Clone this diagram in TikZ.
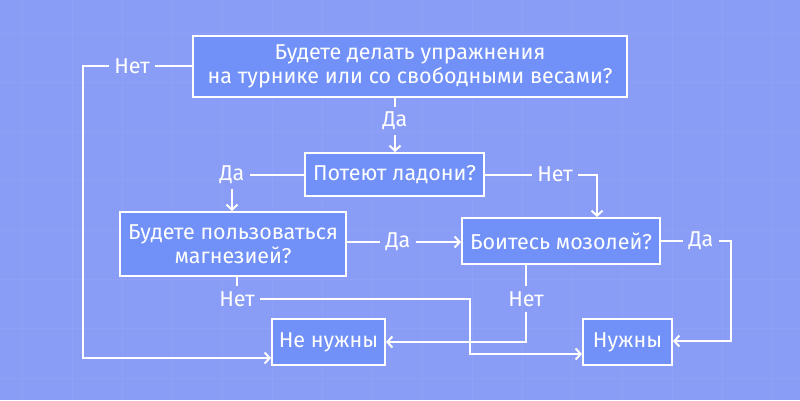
\documentclass[tikz,border=0pt]{standalone}
\usepackage{fontspec}
\setmainfont{Fira Sans}
\usetikzlibrary{arrows.meta}

\definecolor{bgblue}{HTML}{8A9DF6}
\definecolor{gridblue}{HTML}{8FA0F5}
\definecolor{boxblue}{HTML}{7191F9}

\tikzset{
  qbox/.style={draw=white, line width=2pt, fill=boxblue, text=white, align=center,
    font=\fontsize{21.5}{24}\selectfont, inner sep=0pt},
  answer/.style={text=white, font=\fontsize{21.5}{24}\selectfont, inner sep=5pt},
  link/.style={draw=white, line width=2pt},
  arr/.style={link, -{Straight Barb[length=5pt, width=11pt, line width=2pt]}}
}

\begin{document}
\begin{tikzpicture}[x=1pt, y=-1pt]
  \fill[bgblue] (0,0) rectangle (800,400);
  \useasboundingbox (0,0) rectangle (800,400);
  \foreach \i in {0,...,15} {
    \draw[gridblue, line width=1pt] (22+\i*50,0) -- (22+\i*50,400);
  }
  \foreach \j in {0,...,7} {
    \draw[gridblue, line width=1pt] (0,33+\j*49.3) -- (800,33+\j*49.3);
  }

  % questions and outcomes
  \node[qbox, minimum width=434pt, minimum height=61pt] (turnik) at (410,66)
    {Будете делать упражнения\\на турнике или со свободными весами?};
  \node[qbox, minimum width=179pt, minimum height=43pt] (ladoni) at (394.5,174.5) {Потеют ладони?};
  \node[qbox, minimum width=226pt, minimum height=64pt] (magnez) at (233,244)
    {Будете пользоваться\\магнезией?};
  \node[qbox, minimum width=198pt, minimum height=46pt] (mozol) at (561,241) {Боитесь мозолей?};
  \node[qbox, minimum width=113pt, minimum height=46pt] (nenado) at (328.5,342) {Не нужны};
  \node[qbox, minimum width=89pt, minimum height=46pt] (nado) at (627.5,342) {Нужны};

  % answers
  \node[answer] (net1) at (132,66) {Нет};
  \node[answer] (da1) at (395,121) {Да};
  \node[answer] (da2) at (232,174.5) {Да};
  \node[answer] (net2) at (555,174.5) {Нет};
  \node[answer] (da3) at (398,242) {Да};
  \node[answer] (da4) at (701,241) {Да};
  \node[answer] (net3) at (237,299) {Нет};
  \node[answer] (net4) at (526,299) {Нет};

  \coordinate (c1) at (83,358);
  \coordinate (c2) at (597,174.5);
  \coordinate (c3) at (731,341);
  \coordinate (c4) at (470,354);

  \draw[link] (turnik.west) -- (net1.east);
  \draw[arr] (net1.west) -| (c1) -- (nenado.west |- c1);
  \draw[link] (da1 |- turnik.south) -- (da1.north);
  \draw[arr] (da1.south) -- (da1 |- ladoni.north);
  \draw[link] (ladoni.west) -- (da2.east);
  \draw[arr] (da2.south) -- (da2 |- magnez.north);
  \draw[link] (ladoni.east) -- (net2.west);
  \draw[arr] (net2.east) -- (c2) -- (c2 |- mozol.north);
  \draw[link] (magnez.east |- da3) -- (da3.west);
  \draw[arr] (da3.east) -- (mozol.west |- da3);
  \draw[link] (mozol.east) -- (da4.west);
  \draw[arr] (da4.east) -| (c3) -- (nado.east |- c3);
  \draw[link] (net4 |- mozol.south) -- (net4.north);
  \draw[arr] (net4.south) |- (nenado.east);
  \draw[link] (net3 |- magnez.south) -- (net3.north);
  \draw[arr] (net3.east) -| (c4) -- (nado.west |- c4);
\end{tikzpicture}
\end{document}
